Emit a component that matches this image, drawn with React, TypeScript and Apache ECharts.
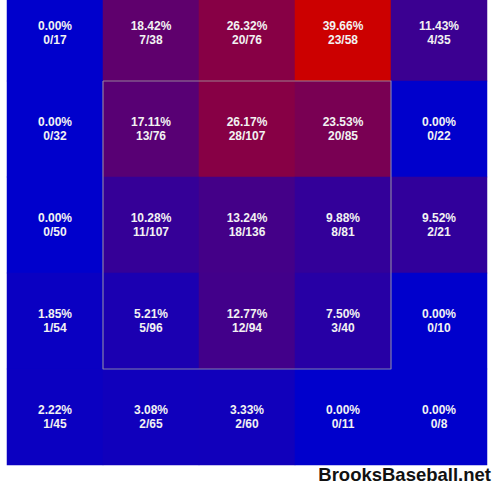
import React, { useEffect, useRef } from "react";
import * as echarts from "echarts";

const columns = ["c1", "c2", "c3", "c4", "c5"];
const rows = ["r1", "r2", "r3", "r4", "r5"];

// hits / pitches per zone cell, rows top to bottom, columns left to right
const hits = [
  [0, 7, 20, 23, 4],
  [0, 13, 28, 20, 0],
  [0, 11, 18, 8, 2],
  [1, 5, 12, 3, 0],
  [1, 2, 2, 0, 0],
];
const pitches = [
  [17, 38, 76, 58, 35],
  [32, 76, 107, 85, 22],
  [50, 107, 136, 81, 21],
  [54, 96, 94, 40, 10],
  [45, 65, 60, 11, 8],
];

// strike zone outline in cell units
const strikeZone = [
  [1, 1],
  [4, 1],
  [4, 4],
  [1, 4],
  [1, 1],
];

export default function App() {
  const ref = useRef<HTMLDivElement>(null);
  useEffect(() => {
    if (!ref.current) return;
    const chart = echarts.init(ref.current, null, { renderer: "svg" });
    const data: any[] = [];
    rows.forEach((_, r) => {
      columns.forEach((__, c) => {
        const pct = (hits[r][c] / pitches[r][c]) * 100;
        data.push({ value: [c, r, pct], hits: hits[r][c], total: pitches[r][c] });
      });
    });
    const maxPct = Math.max(...data.map((d) => d.value[2]));
    chart.setOption({
      animation: false,
      grid: [
        { left: 7, top: 0, width: 480, height: 480 },
        { left: 7, top: 0, width: 480, height: 480 },
      ],
      xAxis: [
        { type: "category", data: columns, show: false, gridIndex: 0 },
        { type: "value", min: 0, max: 5, show: false, gridIndex: 1 },
      ],
      yAxis: [
        { type: "category", data: rows, inverse: true, show: false, gridIndex: 0 },
        { type: "value", min: 0, max: 5, inverse: true, show: false, gridIndex: 1 },
      ],
      visualMap: {
        show: false,
        min: 0,
        max: maxPct,
        dimension: 2,
        seriesIndex: 0,
        inRange: { color: ["#0000CC", "#CC0000"] },
      },
      series: [
        {
          type: "heatmap",
          xAxisIndex: 0,
          yAxisIndex: 0,
          data,
          label: {
            show: true,
            color: "#f2f2f2",
            fontFamily: "Liberation Sans",
            fontWeight: "bold",
            fontSize: 12,
            lineHeight: 14,
            formatter: (p: any) =>
              p.data.value[2].toFixed(2) + "%\n" + p.data.hits + "/" + p.data.total,
          },
          itemStyle: { borderWidth: 0 },
          emphasis: { disabled: true },
        },
        {
          type: "line",
          xAxisIndex: 1,
          yAxisIndex: 1,
          data: strikeZone,
          symbol: "none",
          silent: true,
          lineStyle: { color: "rgba(170,170,170,0.75)", width: 1.2 },
        },
      ],
      graphic: [
        {
          type: "text",
          right: 9,
          top: 480,
          style: {
            text: "BrooksBaseball.net",
            font: "bold 18.5px 'Liberation Sans'",
            fill: "#111111",
          },
        },
      ],
    });
    return () => chart.dispose();
  }, []);
  return (
    <div
      ref={ref}
      style={{ position: "absolute", left: 0, top: -15, width: 500, height: 500 }}
    />
  );
}
